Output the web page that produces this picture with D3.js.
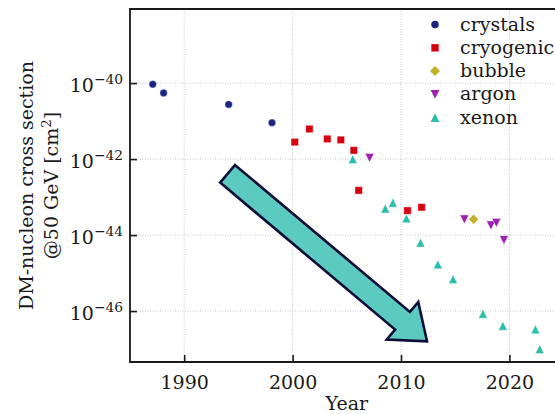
<!DOCTYPE html>
<html>
<head>
<meta charset="utf-8">
<script src="https://cdn.jsdelivr.net/npm/d3@7"></script>
<style>
  html, body { margin: 0; padding: 0; background: #fff; }
  svg { display: block; }
  text { font-family: "DejaVu Serif", serif; fill: #1a1a1a; }
</style>
</head>
<body>
<svg id="chart" width="555" height="414"></svg>
<script>
// Spin-independent DM-nucleon cross-section limits at 50 GeV, by year and technique
const crystalsYear = [1987.1, 1988.1, 1994.1, 1998.1];
const crystalsSigma = [9.3e-41, 5.5e-41, 2.75e-41, 9.1e-42];

const cryogenicYear = [2000.2, 2001.55, 2003.2, 2004.45, 2005.65, 2006.1, 2010.6, 2011.9];
const cryogenicSigma = [2.8e-42, 6.2e-42, 3.4e-42, 3.2e-42, 1.7e-42, 1.5e-43, 4.4e-44, 5.4e-44];

const bubbleYear = [2016.7];
const bubbleSigma = [2.6e-44];

const argonYear = [2007.1, 2015.85, 2018.3, 2018.8, 2019.5];
const argonSigma = [1.07e-42, 2.6e-44, 1.8e-44, 2.1e-44, 7.4e-45];

const xenonYear = [2005.55, 2008.55, 2009.25, 2010.5, 2011.8, 2013.4, 2014.8, 2017.56, 2019.4, 2022.4, 2022.8];
const xenonSigma = [1.0e-42, 5.0e-44, 7.1e-44, 2.75e-44, 6.3e-45, 1.7e-45, 6.9e-46, 8.5e-47, 4.1e-47, 3.3e-47, 1.0e-47];

const xTicks = [1990, 2000, 2010, 2020];
const yTickExps = [-40, -42, -44, -46];

// trend arrow: tail and tip in data coordinates
const arrowFrom = [1994.0, 4.1e-43];
const arrowTo = [2012.4, 1.6e-47];

const seriesNames = ["crystals", "cryogenic", "bubble", "argon", "xenon"];
const series = [
  { name: "crystals", years: crystalsYear, sigma: crystalsSigma, color: "#1b2580", shape: "circle" },
  { name: "cryogenic", years: cryogenicYear, sigma: cryogenicSigma, color: "#d7000f", shape: "square" },
  { name: "bubble", years: bubbleYear, sigma: bubbleSigma, color: "#c4b02c", shape: "diamond" },
  { name: "argon", years: argonYear, sigma: argonSigma, color: "#9c1fb1", shape: "tridown" },
  { name: "xenon", years: xenonYear, sigma: xenonSigma, color: "#2dbdac", shape: "triup" }
];

const fontSize = 19;
const margin = { left: 130, top: 9 };
const plotW = 433.6, plotH = 353;

const svg = d3.select("#chart");
const g = svg.append("g").attr("transform", `translate(${margin.left},${margin.top})`);

const x = d3.scaleLinear().domain([1985, 2025]).range([0, plotW]);
const y = d3.scaleLog().domain([Math.pow(10, -47.34), Math.pow(10, -38.05)]).range([plotH, 0]);

// dotted grid
const grid = g.append("g").attr("stroke", "#c8c8c8").attr("stroke-width", 1).attr("stroke-dasharray", "1,1.5");
grid.selectAll("line.vx").data(xTicks).join("line")
  .attr("x1", d => x(d)).attr("x2", d => x(d)).attr("y1", 0).attr("y2", plotH);
grid.selectAll("line.hy").data(yTickExps).join("line")
  .attr("x1", 0).attr("x2", plotW).attr("y1", d => y(Math.pow(10, d))).attr("y2", d => y(Math.pow(10, d)));

// marker shapes
function markerPath(shape) {
  switch (shape) {
    case "circle": return d3.symbol(d3.symbolCircle, 44)();
    case "square": return "M-3.7,-3.7H3.7V3.7H-3.7Z";
    case "diamond": return "M0,-5L5,0L0,5L-5,0Z";
    case "triup": return "M0,-4.4L4.4,4.4L-4.4,4.4Z";
    case "tridown": return "M0,4.4L4.4,-4.4L-4.4,-4.4Z";
  }
}

const marks = g.append("g");
series.forEach(s => {
  marks.append("g").selectAll("path").data(s.years.map((yr, i) => [yr, s.sigma[i]])).join("path")
    .attr("d", markerPath(s.shape))
    .attr("transform", d => `translate(${x(d[0])},${y(d[1])})`)
    .attr("fill", s.color)
    .attr("stroke", "#fff").attr("stroke-opacity", 0.5).attr("stroke-width", 0.8);
});

// trend arrow
(function drawArrow() {
  const x0 = x(arrowFrom[0]), y0 = y(arrowFrom[1]);
  const x1 = x(arrowTo[0]), y1 = y(arrowTo[1]);
  const len = Math.hypot(x1 - x0, y1 - y0);
  const ux = (x1 - x0) / len, uy = (y1 - y0) / len;
  const nx = -uy, ny = ux;
  const shaftHalf = 11.5, headHalf = 24.5, headLen = 32;
  const bx = x1 - ux * headLen, by = y1 - uy * headLen;
  const pts = [
    [x0 + nx * shaftHalf, y0 + ny * shaftHalf],
    [bx + nx * shaftHalf, by + ny * shaftHalf],
    [bx + nx * headHalf, by + ny * headHalf],
    [x1, y1],
    [bx - nx * headHalf, by - ny * headHalf],
    [bx - nx * shaftHalf, by - ny * shaftHalf],
    [x0 - nx * shaftHalf, y0 - ny * shaftHalf]
  ];
  g.append("path")
    .attr("d", "M" + pts.map(p => p.join(",")).join("L") + "Z")
    .attr("fill", "#5ccbbf")
    .attr("stroke", "#0c0c38")
    .attr("stroke-width", 2.6)
    .attr("stroke-linejoin", "miter");
})();

// axes: ticks point inward
const xAxis = d3.axisBottom(x).tickValues(xTicks).tickFormat(d3.format("d")).tickSizeInner(-7).tickSizeOuter(0).tickPadding(14);
const xg = g.append("g").attr("transform", `translate(0,${plotH})`).call(xAxis);
xg.select(".domain").remove();
xg.selectAll(".tick line").attr("stroke", "#1a1a1a").attr("stroke-width", 1.6);
xg.selectAll(".tick text").attr("font-size", fontSize).attr("font-family", "DejaVu Serif").attr("fill", "#1a1a1a");

const yAxis = d3.axisLeft(y).tickValues(yTickExps.map(e => Math.pow(10, e))).tickSizeInner(-7).tickSizeOuter(0).tickFormat("");
const yg = g.append("g").call(yAxis);
yg.select(".domain").remove();
yg.selectAll(".tick line").attr("stroke", "#1a1a1a").attr("stroke-width", 1.6);
yg.selectAll(".tick").each(function (d, i) {
  const t = d3.select(this).append("text")
    .attr("x", -7).attr("y", 8.5)
    .attr("text-anchor", "end")
    .attr("font-size", fontSize);
  t.append("tspan").text("10");
  t.append("tspan").attr("dy", -8.5).attr("font-size", 13.8).text("\u2212" + Math.abs(yTickExps[i]));
});

// frame
g.append("path")
  .attr("d", `M${plotW},0H0V${plotH}H${plotW}`)
  .attr("fill", "none").attr("stroke", "#1a1a1a").attr("stroke-width", 1.8);

// axis titles
svg.append("text").attr("x", margin.left + plotW / 2).attr("y", 410).attr("text-anchor", "middle")
  .attr("font-size", fontSize).text("Year");
const yl = svg.append("text").attr("transform", `translate(0,${margin.top + plotH / 2}) rotate(-90)`)
  .attr("text-anchor", "middle").attr("font-size", fontSize);
yl.append("tspan").attr("x", 0).attr("y", 33).text("DM-nucleon cross section");
const l2 = yl.append("tspan").attr("x", 0).attr("y", 57.5);
l2.append("tspan").text("@50 GeV [cm");
l2.append("tspan").attr("dy", -7).attr("font-size", 13.3).text("2");
l2.append("tspan").attr("dy", 7).text("]");

// legend
const legend = svg.append("g").attr("transform", "translate(435,24.5)");
series.forEach((s, i) => {
  const row = legend.append("g").attr("transform", `translate(0,${i * 23.3})`);
  row.append("path").attr("d", markerPath(s.shape)).attr("fill", s.color);
  row.append("text").attr("x", 25).attr("y", 6).attr("font-size", fontSize).text(seriesNames[i]);
});
</script>
</body>
</html>
